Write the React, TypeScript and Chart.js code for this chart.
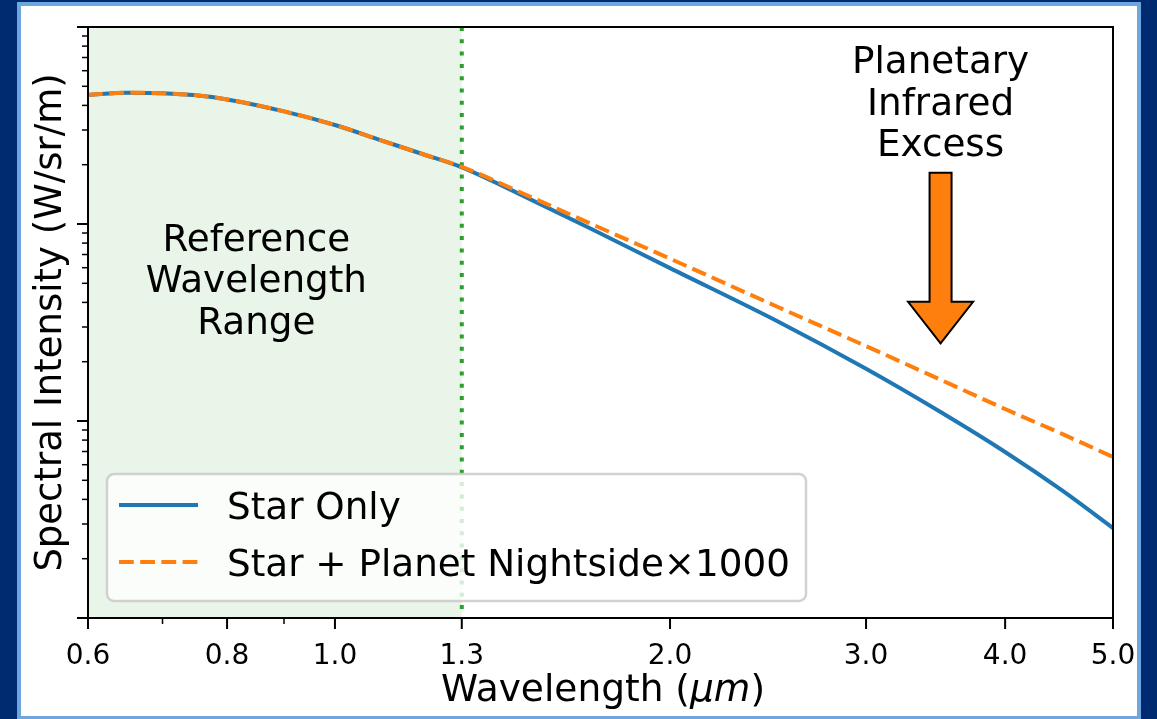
import React, { useEffect, useRef } from 'react';
import { Chart, registerables } from 'chart.js';

Chart.register(...registerables);

// ---- data ----
const WAVELENGTHS = [0.6, 0.65, 0.7, 0.75, 0.8, 0.9, 1.0, 1.1, 1.2, 1.3, 1.5, 1.7, 2.0, 2.5, 3.0, 3.5, 4.0, 4.5, 5.0];
const STAR_ONLY = [45.2, 46.4, 46.1, 45.0, 42.9, 37.3, 31.8, 26.6, 22.6, 19.4, 13.3, 9.43, 5.97, 3.2, 1.84, 1.11, 0.696, 0.444, 0.286];
const STAR_PLUS_PLANET = [45.2, 46.4, 46.1, 45.0, 42.9, 37.3, 31.8, 26.6, 22.6, 19.5, 13.7, 10.0, 6.67, 3.79, 2.4, 1.62, 1.15, 0.86, 0.657];
const SERIES_LABELS = ['Star Only', 'Star + Planet Nightside\u00d71000'];

const X_TICKS = [0.6, 0.8, 1.0, 1.3, 2.0, 3.0, 4.0, 5.0];
const X_TICK_LABELS = ['0.6', '0.8', '1.0', '1.3', '2.0', '3.0', '4.0', '5.0'];
const X_MINOR_TICKS = [0.7, 0.9];
const Y_MAJOR_TICKS = [0.1, 1, 10, 100];
const Y_MINOR_MULTS = [2, 3, 4, 5, 6, 7, 8, 9];
const X_RANGE = [0.6, 5.0];
const Y_RANGE = [0.1, 100];

const REF_RANGE = [0.6, 1.3];
const REF_LABEL = ['Reference', 'Wavelength', 'Range'];
const REF_LABEL_AT = { x: 0.85, y: 4.5 };
const EXCESS_LABEL = ['Planetary', 'Infrared', 'Excess'];
const ARROW_AT = { x: 3.5, tail: 18.2, tip: 2.48 };

// ---- styles ----
const NAVY = '#002b70';
const FRAME_BLUE = '#6ea7dd';
const BLUE = '#1f77b4';
const ORANGE = '#ff7f0e';
const GREEN = '#2ca02c';
const FONT = '"DejaVu Sans"';
const BIG = 37.3;

const overlay = {
  id: 'overlay',
  beforeDatasetsDraw(chart: any) {
    const { ctx, chartArea: a, scales } = chart;
    const x = scales.x;
    const x0 = x.getPixelForValue(REF_RANGE[0]);
    const x1 = x.getPixelForValue(REF_RANGE[1]);
    ctx.save();
    ctx.fillStyle = 'rgba(44,160,44,0.1)';
    ctx.fillRect(x0, a.top, x1 - x0, a.bottom - a.top);
    ctx.strokeStyle = GREEN;
    ctx.lineWidth = 4;
    ctx.setLineDash([4, 8.3]);
    ctx.beginPath();
    ctx.moveTo(x1, a.top);
    ctx.lineTo(x1, a.bottom);
    ctx.stroke();
    ctx.restore();
  },
  afterDatasetsDraw(chart: any) {
    const { ctx, chartArea: a, scales } = chart;
    const x = scales.x;
    const y = scales.y;
    ctx.save();

    // annotation: reference range text
    ctx.fillStyle = '#000';
    ctx.font = `${BIG}px ${FONT}`;
    ctx.textAlign = 'center';
    ctx.textBaseline = 'alphabetic';
    const rx = x.getPixelForValue(REF_LABEL_AT.x);
    const ry = y.getPixelForValue(REF_LABEL_AT.y);
    REF_LABEL.forEach((t, i) => ctx.fillText(t, rx, ry + (i - 1) * 41.5));

    // annotation: arrow + text
    const ax = x.getPixelForValue(ARROW_AT.x);
    const tailY = y.getPixelForValue(ARROW_AT.tail);
    const tipY = y.getPixelForValue(ARROW_AT.tip);
    const headLen = 41.5, headHalf = 32.5, shaftHalf = 11;
    ctx.beginPath();
    ctx.moveTo(ax - shaftHalf, tailY);
    ctx.lineTo(ax + shaftHalf, tailY);
    ctx.lineTo(ax + shaftHalf, tipY - headLen);
    ctx.lineTo(ax + headHalf, tipY - headLen);
    ctx.lineTo(ax, tipY);
    ctx.lineTo(ax - headHalf, tipY - headLen);
    ctx.lineTo(ax - shaftHalf, tipY - headLen);
    ctx.closePath();
    ctx.fillStyle = ORANGE;
    ctx.fill();
    ctx.lineWidth = 2;
    ctx.lineJoin = 'miter';
    ctx.strokeStyle = '#000';
    ctx.stroke();
    ctx.fillStyle = '#000';
    EXCESS_LABEL.forEach((t, i) => ctx.fillText(t, ax, tailY - 16.3 - (2 - i) * 41.7));

    // legend
    const ds = chart.data.datasets;
    ctx.font = `${BIG}px ${FONT}`;
    const textX = a.left + 139;
    const maxW = Math.max(...SERIES_LABELS.map((s) => ctx.measureText(s).width));
    const bx = a.left + 19, by = a.bottom - 144, bw = textX + maxW + 16 - bx, bh = 127;
    ctx.beginPath();
    (ctx as any).roundRect(bx, by, bw, bh, 7);
    ctx.fillStyle = 'rgba(255,255,255,0.8)';
    ctx.fill();
    ctx.strokeStyle = 'rgba(204,204,204,0.9)';
    ctx.lineWidth = 2.5;
    ctx.stroke();
    const rows = [a.bottom - 113, a.bottom - 56];
    ds.forEach((d: any, i: number) => {
      ctx.save();
      ctx.strokeStyle = d.borderColor;
      ctx.lineWidth = d.borderWidth;
      ctx.setLineDash(d.borderDash || []);
      ctx.beginPath();
      ctx.moveTo(a.left + 31, rows[i]);
      ctx.lineTo(a.left + 110, rows[i]);
      ctx.stroke();
      ctx.restore();
      ctx.fillStyle = '#000';
      ctx.textAlign = 'left';
      ctx.textBaseline = 'alphabetic';
      ctx.fillText(SERIES_LABELS[i], textX, rows[i] + 13.5);
    });

    // spines
    ctx.strokeStyle = '#000';
    ctx.lineWidth = 2;
    ctx.setLineDash([]);
    ctx.strokeRect(a.left, a.top, a.right - a.left, a.bottom - a.top);

    // ticks
    const tick = (x1: number, y1: number, x2: number, y2: number, w: number) => {
      ctx.lineWidth = w;
      ctx.beginPath();
      ctx.moveTo(x1, y1);
      ctx.lineTo(x2, y2);
      ctx.stroke();
    };
    X_TICKS.forEach((v) => { const p = x.getPixelForValue(v); tick(p, a.bottom, p, a.bottom + 11, 2); });
    X_MINOR_TICKS.forEach((v) => { const p = x.getPixelForValue(v); tick(p, a.bottom, p, a.bottom + 6, 1.5); });
    Y_MAJOR_TICKS.forEach((v) => { const p = y.getPixelForValue(v); tick(a.left, p, a.left - 11, p, 2); });
    Y_MAJOR_TICKS.slice(0, -1).forEach((d) =>
      Y_MINOR_MULTS.forEach((m) => { const p = y.getPixelForValue(d * m); tick(a.left, p, a.left - 6, p, 1.5); })
    );

    // x axis title with italic unit
    const parts = [
      { t: 'Wavelength (', f: `37.5px ${FONT}` },
      { t: '\u03bcm', f: `italic 37.5px ${FONT}` },
      { t: ')', f: `37.5px ${FONT}` },
    ];
    const widths = parts.map((p) => { ctx.font = p.f; return ctx.measureText(p.t).width; });
    const total = widths.reduce((s, w) => s + w, 0);
    let cx = (a.left + a.right) / 2 + 2.5 - total / 2;
    ctx.fillStyle = '#000';
    ctx.textAlign = 'left';
    ctx.textBaseline = 'alphabetic';
    parts.forEach((p, i) => { ctx.font = p.f; ctx.fillText(p.t, cx, a.bottom + 83); cx += widths[i]; });

    ctx.restore();
  },
};

export default function App() {
  const ref = useRef<HTMLCanvasElement>(null);
  useEffect(() => {
    document.body.style.margin = '0';
    document.body.style.background = NAVY;
    const chart = new Chart(ref.current as HTMLCanvasElement, {
      type: 'line',
      data: {
        datasets: [
          {
            label: SERIES_LABELS[0],
            data: WAVELENGTHS.map((w, i) => ({ x: w, y: STAR_ONLY[i] })),
            borderColor: BLUE,
            borderWidth: 4,
            pointRadius: 0,
            fill: false,
            cubicInterpolationMode: 'monotone',
            order: 1,
          },
          {
            label: SERIES_LABELS[1],
            data: WAVELENGTHS.map((w, i) => ({ x: w, y: STAR_PLUS_PLANET[i] })),
            borderColor: ORANGE,
            borderWidth: 4,
            borderDash: [14.8, 6.4],
            pointRadius: 0,
            fill: false,
            cubicInterpolationMode: 'monotone',
            order: 0,
          },
        ],
      } as any,
      options: {
        responsive: false,
        devicePixelRatio: 1,
        animation: false,
        layout: { padding: { left: 29, top: 27, right: 44, bottom: 0 } },
        plugins: { legend: { display: false }, tooltip: { enabled: false } },
        scales: {
          x: {
            type: 'logarithmic',
            min: X_RANGE[0],
            max: X_RANGE[1],
            afterBuildTicks: (s: any) => { s.ticks = X_TICKS.map((v) => ({ value: v })); },
            afterFit: (s: any) => { s.height = 101; },
            grid: { display: false, drawTicks: true, tickLength: 11 },
            border: { display: false },
            ticks: {
              autoSkip: false,
              maxRotation: 0,
              minRotation: 0,
              padding: 11,
              color: '#000',
              font: { family: 'DejaVu Sans', size: 28 },
              callback: (_v: any, i: number) => X_TICK_LABELS[i],
            },
          },
          y: {
            type: 'logarithmic',
            min: Y_RANGE[0],
            max: Y_RANGE[1],
            afterFit: (s: any) => { s.width = 59; },
            grid: { display: false },
            border: { display: false },
            ticks: { display: false },
            title: {
              display: true,
              text: 'Spectral Intensity (W/sr/m)',
              color: '#000',
              font: { family: 'DejaVu Sans', size: 37, lineHeight: 1.2 },
              padding: 0,
            },
          },
        },
      } as any,
      plugins: [overlay],
    });
    return () => chart.destroy();
  }, []);
  return (
    <div style={{ position: 'relative', width: 1157, height: 719, background: NAVY, overflow: 'hidden' }}>
      <div
        style={{
          position: 'absolute',
          left: 17,
          top: 2,
          width: 1124,
          height: 718,
          boxSizing: 'border-box',
          border: `4px solid ${FRAME_BLUE}`,
          background: '#fff',
        }}
      />
      <canvas
        ref={ref}
        width={1157}
        height={719}
        style={{ position: 'absolute', left: 0, top: 0, width: 1157, height: 719 }}
      />
    </div>
  );
}
